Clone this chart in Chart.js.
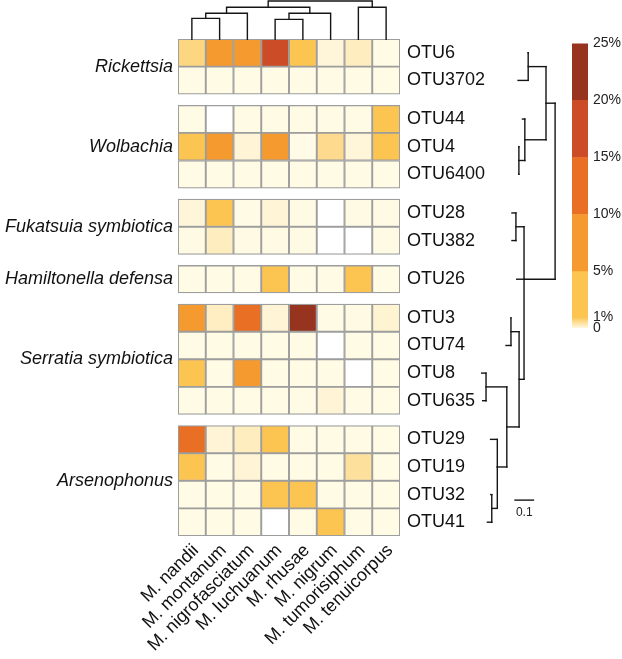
<!DOCTYPE html>
<html>
<head>
<meta charset="utf-8">
<script src="https://cdn.jsdelivr.net/npm/chart.js@4.4.1/dist/chart.umd.min.js"></script>
<style>
  body { margin: 0; background: #fff; }
  #wrap { position: relative; width: 622px; height: 659px; }
  canvas { position: absolute; }
</style>
</head>
<body>
<div id="wrap">
  <canvas id="heat" width="622" height="659" style="left:0;top:0"></canvas>
  <canvas id="colTree" width="222" height="40" style="left:178px;top:0"></canvas>
  <canvas id="otuTree" width="95" height="497" style="left:470px;top:39px"></canvas>
  <canvas id="scale" width="62" height="312" style="left:560px;top:30px"></canvas>
</div>
<script>
const species = ['M. nandii', 'M. montanum', 'M. nigrofasciatum', 'M. luchuanum',
                 'M. rhusae', 'M. nigrum', 'M. tumorisiphum', 'M. tenuicorpus'];
const groups = ['Rickettsia', 'Wolbachia', 'Fukatsuia symbiotica', 'Hamiltonella defensa',
                'Serratia symbiotica', 'Arsenophonus'];
const groupSizes = [2, 3, 2, 1, 4, 4];
const otus = ['OTU6', 'OTU3702', 'OTU44', 'OTU4', 'OTU6400', 'OTU28', 'OTU382', 'OTU26',
              'OTU3', 'OTU74', 'OTU8', 'OTU635', 'OTU29', 'OTU19', 'OTU32', 'OTU41'];

// relative abundance (%), one row per OTU, columns in species order
const abundance = [
  [0.68, 7, 7, 17, 3, 0.1, 0.27, 0.02],
  [0.02, 0.02, 0.02, 0.02, 0.02, 0.02, 0.02, 0.02],
  [0.02, 0, 0.02, 0.02, 0.02, 0.02, 0.02, 3],
  [3, 7, 0.12, 7, 0.01, 0.6, 0.1, 3],
  [0.02, 0.02, 0.02, 0.02, 0.02, 0.02, 0.02, 0.02],
  [0.1, 3, 0.02, 0.12, 0.03, 0, 0.03, 0.03],
  [0.03, 0.27, 0.03, 0.03, 0.03, 0, 0, 0.03],
  [0.02, 0.02, 0.02, 3, 0.02, 0.02, 3, 0.02],
  [7, 0.25, 12, 0.12, 22, 0.02, 0.03, 0.15],
  [0.02, 0.02, 0.02, 0.02, 0.02, 0, 0.02, 0.02],
  [3, 0.02, 7, 0.02, 0.02, 0.02, 0, 0.02],
  [0.02, 0.02, 0.02, 0.02, 0.02, 0.12, 0.02, 0.02],
  [12, 0.12, 0.27, 3, 0.02, 0.02, 0.02, 0.02],
  [3, 0.02, 0.12, 0.02, 0.02, 0.02, 0.5, 0.02],
  [0.02, 0.02, 0.02, 3, 3, 0.02, 0.02, 0.02],
  [0.02, 0.02, 0.02, 0, 0.02, 3, 0.02, 0.02]
];

const colorBreaks = [1, 5, 10, 15, 20, 25];
const colorBins = ['#fcc451', '#f59a2f', '#e96f25', '#cc4c28', '#973420'];
const scaleTicks = [0, 1, 5, 10, 15, 20, 25];

// species dendrogram, hclust style: negative = species (1-based), positive = earlier merge
const colMerge = [[-1, -2], [-4, -5], [1, -3], [2, -6], [-7, -8], [3, 4], [6, 5]];
const colHeight = [0.555, 0.53, 0.685, 0.685, 0.84, 0.84, 1.0];

// OTU tree (parents listed before children), branch lengths in substitutions/site
const treeNode = ['root', 'U', 'A', 'OTU6', 'OTU3702', 'W', 'OTU44', 'X', 'OTU4', 'OTU6400',
                  'B', 'Fuk', 'OTU28', 'OTU382', 'OTU26', 'D', 'C', 'OTU3', 'OTU74', 'E',
                  'F', 'OTU8', 'OTU635', 'G', 'OTU29', 'OTU19', 'I', 'OTU32', 'OTU41'];
const treeParent = [null, 'root', 'U', 'A', 'A', 'U', 'W', 'W', 'X', 'X',
                    'root', 'B', 'Fuk', 'Fuk', 'B', 'B', 'D', 'C', 'C', 'D',
                    'E', 'F', 'F', 'E', 'G', 'G', 'G', 'I', 'I'];
const treeLength = [0, 0.046, 0.090, 0, 0.051, 0.107, 0.012, 0.030, 0, 0,
                    0.157, 0.041, 0.020, 0.020, 0.037, 0.025, 0.041, 0, 0.025, 0.062,
                    0.105, 0.022, 0.017, 0.048, 0.034, 0, 0.028, 0.005, 0.022];

const FONT = "'Liberation Sans', Arial, Helvetica, sans-serif";
const GAP = 0.4;
Chart.defaults.font.family = FONT;

// row layout with a gap between bacterial groups
const rowTop = [];
let pos = 0;
groupSizes.forEach((n, g) => {
  if (g) pos += GAP;
  for (let i = 0; i < n; i++) { rowTop.push(pos); pos += 1; }
});
const yMax = pos;
const rowMid = rowTop.map(t => t + 0.5);
const groupMid = [];
let k = 0;
groupSizes.forEach(n => { groupMid.push((rowTop[k] + rowTop[k + n - 1] + 1) / 2); k += n; });

function hexRgb(h) {
  return [1, 3, 5].map(i => parseInt(h.slice(i, i + 2), 16));
}
const pale = [255, 252, 232];
function colorFor(v) {
  if (v === 0) return '#ffffff';
  if (v < 1) {
    const b = hexRgb(colorBins[0]);
    return 'rgb(' + pale.map((p, i) => Math.round(p + (b[i] - p) * v)).join(',') + ')';
  }
  for (let i = colorBins.length - 1; i >= 0; i--) if (v >= colorBreaks[i]) return colorBins[i];
}

const noGrid = { display: false, drawTicks: false };
const noBorder = { display: false };

// heatmap
const heatSets = otus.map((name, r) => ({
  label: name,
  data: species.map(() => [rowTop[r], rowTop[r] + 1]),
  backgroundColor: abundance[r].map(colorFor),
  borderColor: '#9d9d9d',
  borderWidth: 1.3,
  borderSkipped: false,
  grouped: false,
  barPercentage: 1,
  categoryPercentage: 1
}));

new Chart(document.getElementById('heat'), {
  type: 'bar',
  data: { labels: species, datasets: heatSets },
  options: {
    responsive: false,
    animation: false,
    layout: { padding: { top: 39, left: 0, right: 0, bottom: 0 } },
    plugins: { legend: { display: false }, tooltip: { enabled: false } },
    scales: {
      x: {
        position: 'bottom',
        grid: noGrid, border: noBorder,
        ticks: { minRotation: 45, maxRotation: 45, autoSkip: false, padding: 4, labelOffset: 4,
                 color: '#111', font: { size: 18 } },
        afterFit: s => { s.height = 123; }
      },
      y: {
        type: 'linear', position: 'right', reverse: true, min: 0, max: yMax,
        grid: noGrid, border: noBorder,
        afterBuildTicks: s => { s.ticks = rowMid.map(v => ({ value: v })); },
        ticks: { autoSkip: false, padding: 7, color: '#111', font: { size: 18 },
                 callback: (v, i) => otus[i] },
        afterFit: s => { s.width = 222; }
      },
      yg: {
        type: 'linear', position: 'left', reverse: true, min: 0, max: yMax,
        grid: noGrid, border: noBorder,
        afterBuildTicks: s => { s.ticks = groupMid.map(v => ({ value: v })); },
        ticks: { autoSkip: false, padding: 5, color: '#111',
                 font: { size: 18, style: 'italic' },
                 callback: (v, i) => groups[i] },
        afterFit: s => { s.width = 178; }
      }
    }
  }
});

const lineStyle = {
  showLine: true, pointRadius: 0, borderColor: '#151515', borderWidth: 1.4,
  borderCapStyle: 'square', borderJoinStyle: 'miter', clip: false, tension: 0
};
const hiddenAxes = (xo, yo) => ({
  x: Object.assign({ type: 'linear', display: false }, xo),
  y: Object.assign({ type: 'linear', display: false }, yo)
});

// species dendrogram
const mergeX = [];
const colSets = colMerge.map((m, j) => {
  const ends = m.map(c => c < 0 ? { x: -c - 0.5, h: 0 } : { x: mergeX[c - 1], h: colHeight[c - 1] });
  mergeX[j] = (ends[0].x + ends[1].x) / 2;
  const h = colHeight[j];
  return Object.assign({
    data: [{ x: ends[0].x, y: ends[0].h }, { x: ends[0].x, y: h },
           { x: ends[1].x, y: h }, { x: ends[1].x, y: ends[1].h }]
  }, lineStyle);
});

new Chart(document.getElementById('colTree'), {
  type: 'scatter',
  data: { datasets: colSets },
  options: {
    responsive: false, animation: false,
    layout: { padding: { top: 1, left: 0, right: 0, bottom: 0 } },
    plugins: { legend: { display: false }, tooltip: { enabled: false } },
    scales: hiddenAxes({ min: 0, max: species.length }, { min: 0, max: 1 })
  }
});

// OTU tree
const idx = Object.fromEntries(treeNode.map((n, i) => [n, i]));
const depth = treeNode.map(() => 0);
treeNode.forEach((n, i) => {
  if (treeParent[i]) depth[i] = depth[idx[treeParent[i]]] + treeLength[i];
});
const kids = treeNode.map(() => []);
treeParent.forEach((p, i) => { if (p) kids[idx[p]].push(i); });
const ty = [];
function place(i) {
  if (!kids[i].length) { ty[i] = rowMid[otus.indexOf(treeNode[i])]; return ty[i]; }
  const ys = kids[i].map(place);
  ty[i] = ys.length % 2 ? ys[(ys.length - 1) / 2] : (ys[0] + ys[ys.length - 1]) / 2;
  return ty[i];
}
place(0);

const treeSets = [];
treeNode.forEach((n, i) => {
  if (treeParent[i]) {
    const p = idx[treeParent[i]];
    treeSets.push(Object.assign({ data: [{ x: depth[p], y: ty[i] }, { x: depth[i], y: ty[i] }] }, lineStyle));
  }
  if (kids[i].length) {
    const ys = kids[i].map(c => ty[c]);
    treeSets.push(Object.assign({ data: [{ x: depth[i], y: Math.min(...ys) }, { x: depth[i], y: Math.max(...ys) }] }, lineStyle));
  }
});
// scale bar of 0.1
const scaleBarStart = 0.106, scaleBarLen = 0.1, scaleBarY = 16.7;
treeSets.push(Object.assign({
  data: [{ x: scaleBarStart, y: scaleBarY }, { x: scaleBarStart + scaleBarLen, y: scaleBarY }]
}, lineStyle, { borderCapStyle: 'butt' }));

const scaleLabel = {
  id: 'scaleLabel',
  afterDatasetsDraw(chart) {
    const { ctx, scales } = chart;
    const x = scales.x.getPixelForValue(scaleBarStart + scaleBarLen / 2);
    const y = scales.y.getPixelForValue(scaleBarY);
    ctx.save();
    ctx.fillStyle = '#222';
    ctx.font = '12px ' + FONT;
    ctx.textAlign = 'center';
    ctx.textBaseline = 'top';
    ctx.fillText('0.1', x, y + 7);
    ctx.restore();
  }
};

new Chart(document.getElementById('otuTree'), {
  type: 'scatter',
  data: { datasets: treeSets },
  options: {
    responsive: false, animation: false,
    layout: { padding: 0 },
    plugins: { legend: { display: false }, tooltip: { enabled: false } },
    scales: hiddenAxes({ reverse: true, min: -0.05, max: 0.43 },
                       { reverse: true, min: 0, max: yMax })
  },
  plugins: [scaleLabel]
});

// colour scale
const gradientFill = ctx => {
  const y = ctx.chart.scales.y;
  if (!y || !ctx.chart.chartArea) return colorBins[0];
  const y0 = y.getPixelForValue(0), y1 = y.getPixelForValue(1);
  if (!isFinite(y0) || !isFinite(y1)) return colorBins[0];
  const g = ctx.chart.ctx.createLinearGradient(0, y0, 0, y1);
  [0, 0.05, 0.3, 0.6, 0.999].forEach(s => g.addColorStop(s, s === 0 ? '#ffffff' : colorFor(s)));
  return g;
};
const scaleSets = scaleTicks.slice(1).map((hi, i) => ({
  data: [[scaleTicks[i], hi]],
  backgroundColor: i === 0 ? gradientFill : colorBins[i - 1],
  borderWidth: 0,
  grouped: false,
  barPercentage: 1,
  categoryPercentage: 1
}));

new Chart(document.getElementById('scale'), {
  type: 'bar',
  data: { labels: [''], datasets: scaleSets },
  options: {
    responsive: false, animation: false,
    layout: { padding: { top: 13, bottom: 11, left: 12, right: 0 } },
    plugins: { legend: { display: false }, tooltip: { enabled: false } },
    scales: {
      x: { display: false },
      y: {
        type: 'linear', position: 'right', min: 0, max: 25,
        grid: noGrid, border: noBorder,
        afterBuildTicks: s => { s.ticks = scaleTicks.map(v => ({ value: v })); },
        ticks: { autoSkip: false, padding: 5, color: '#222', font: { size: 14 },
                 callback: v => v === 0 ? '0' : v + '%' },
        afterFit: s => { s.width = 34; }
      }
    }
  }
});
</script>
</body>
</html>
